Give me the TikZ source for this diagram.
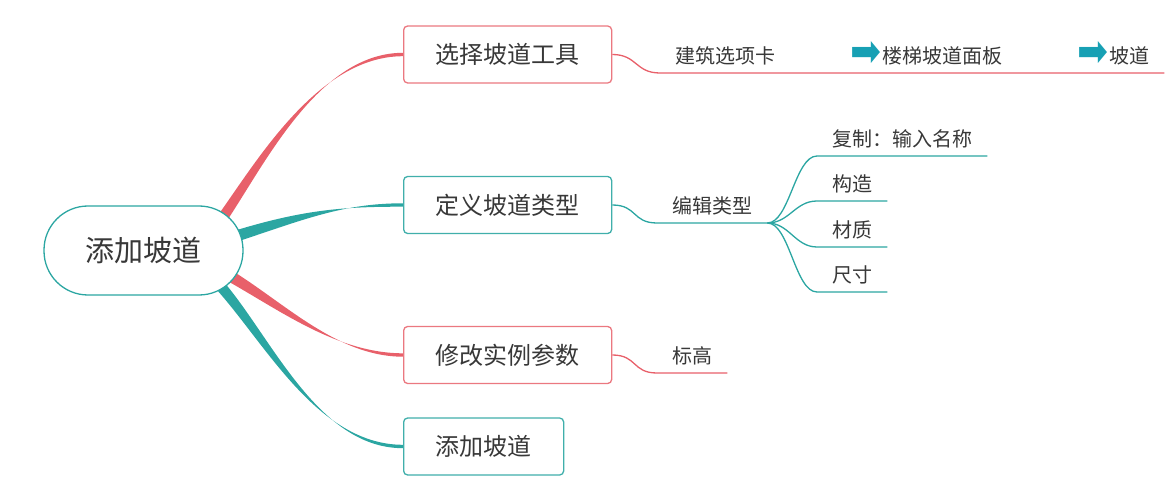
\documentclass[tikz,border=0pt]{standalone}
\usepackage{fontspec}
\setmainfont{Noto Sans CJK SC}
\newfontfamily\symfont{DejaVu Sans}
\usepackage{graphicx}
\usepackage{xcolor}
\definecolor{mmRed}{HTML}{E8606A}
\definecolor{mmTeal}{HTML}{2BA6A2}
\definecolor{mmInk}{HTML}{383838}
\definecolor{mmArrow}{HTML}{17A0B4}
\usetikzlibrary{calc,backgrounds}

% small arrow icon used inside the first leaf
\newcommand{\goarrow}{\textcolor{mmArrow}{\raisebox{-3pt}{\resizebox*{31pt}{25pt}{\raisebox{\depth}{\symfont ➡}}}}}

% tapered main branch: colour, start, control 1, control 2, end, start half-width
\newcommand{\limb}[6]{%
  \fill[#1] ($#2+#6$) .. controls ($#3+#6$) and ($#4+(0,-1.7)$) .. ($#5+(0,-1.7)$)
    -- ($#5+(0,1.7)$) .. controls ($#4+(0,1.7)$) and ($#3-#6$) .. ($#2-#6$) -- cycle;}

\begin{document}
\begin{tikzpicture}[x=1pt,y=-1pt,
      every node/.style={text=mmInk},
      hub/.style={draw=mmTeal,line width=1.3pt,fill=white,rounded corners=44pt,
                  minimum width=199pt,minimum height=89pt,
                  font=\fontsize{29}{34}\selectfont},
      topic/.style={draw=#1,line width=1.3pt,fill=white,rounded corners=4pt,
                    minimum height=57pt,inner xsep=32pt,anchor=west,
                    font=\fontsize{24}{29}\selectfont},
      leaf/.style={anchor=south west,inner xsep=15pt,inner ysep=0pt,
                   text height=15pt,text depth=9pt,
                   font=\fontsize{20}{24}\selectfont},
      twig/.style={line width=1.3pt},
    ]
    \useasboundingbox (0,0) rectangle (1169,486);

    % Node layout
    \node[hub] (root) at (143.5,250.5) {添加坡道};
    \node[topic=mmRed!85] (tool) at (403,54.5) {选择坡道工具};
    \node[topic=mmTeal!90] (def) at (403,205) {定义坡道类型};
    \node[topic=mmRed!85] (inst) at (403,355) {修改实例参数};
    \node[topic=mmTeal!90] (add) at (403,446.5) {添加坡道};

    \node[leaf] (tab) at (660,73) {建筑选项卡\hspace{75pt}\goarrow\hspace{1pt}楼梯坡道面板\hspace{75pt}\goarrow\hspace{1pt}坡道};
    \node[leaf] (edit) at (657,223) {编辑类型};
    \node[leaf] (copy) at (817,156) {复制：输入名称};
    \node[leaf] (build) at (817,201) {构造};
    \node[leaf] (mat) at (817,247) {材质};
    \node[leaf] (size) at (817,292) {尺寸};
    \node[leaf] (level) at (657,373) {标高};

    % Main branches
    \begin{scope}[on background layer]
      \coordinate (s1) at ($(root.center)+(66.5,-15.5)$);
      \coordinate (s2) at ($(root.center)+(71.5,-7.5)$);
      \coordinate (s3) at ($(root.center)+(66.5,14.5)$);
      \coordinate (s4) at ($(root.center)+(61.5,19.5)$);
      \limb{mmRed}{(s1)}{(250,185)}{(310,54.5)}{(tool.west)}{(4.2,3.4)}
      \limb{mmTeal}{(s2)}{(300,215)}{(340,205)}{(def.west)}{(1.8,5.5)}
      \limb{mmRed}{(s3)}{(270,295)}{(330,355)}{(inst.west)}{(-2.7,5.2)}
      \limb{mmTeal}{(s4)}{(260,320)}{(310,446.5)}{(add.west)}{(-3.7,4.0)}
    \end{scope}

    % Leaf connections
    \draw[twig,mmRed] (tool.east) .. controls +(25,0) and +(-25,0) .. (tab.south west) -- (tab.south east);
    \draw[twig,mmTeal] (def.east) .. controls +(25,0) and +(-25,0) .. (edit.south west) -- (edit.south east);
    \foreach \k in {copy,build,mat,size}
      \draw[twig,mmTeal] (edit.south east) .. controls +(22,0) and +(-22,0) .. (\k.south west) -- (\k.south east);
    \draw[twig,mmRed] (inst.east) .. controls +(25,0) and +(-25,0) .. (level.south west) -- (level.south east);

  \end{tikzpicture}
\end{document}
